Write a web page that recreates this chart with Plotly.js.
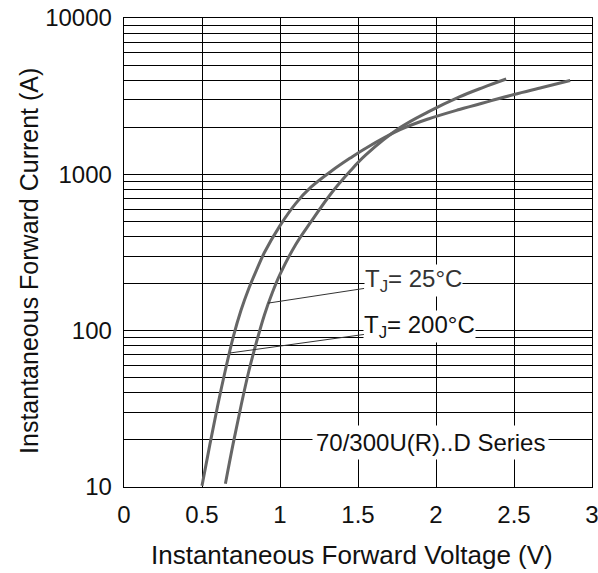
<!DOCTYPE html>
<html>
<head>
<meta charset="utf-8">
<script src="https://cdn.plot.ly/plotly-3.0.1.min.js"></script>
<style>html,body{margin:0;padding:0;background:#fff;}#chart{width:598px;height:573px;}</style>
</head>
<body>
<div id="chart"></div>
<script>
// Tj = 200°C curve (V, A)
var t200V = [0.50, 0.55, 0.60, 0.65, 0.70, 0.75, 0.80, 0.85, 0.90, 1.00, 1.10, 1.20, 1.33, 1.45, 1.55, 1.77, 1.95, 2.15, 2.35, 2.50, 2.68, 2.86];
var t200I = [10.2, 18.6, 33, 56, 91, 135, 186, 245, 316, 470, 650, 830, 1050, 1270, 1470, 1930, 2260, 2600, 2950, 3240, 3590, 3980];
// Tj = 25°C curve (V, A)
var t25V = [0.65, 0.70, 0.75, 0.80, 0.85, 0.90, 0.95, 1.00, 1.10, 1.20, 1.33, 1.45, 1.55, 1.77, 1.95, 2.15, 2.30, 2.45];
var t25I = [10.5, 19, 33, 55, 85, 126, 174, 229, 355, 500, 760, 1050, 1330, 1990, 2510, 3130, 3590, 4070];

var xTicks = [0, 0.5, 1, 1.5, 2, 2.5, 3];
var xTickText = ["0", "0.5", "1", "1.5", "2", "2.5", "3"];
var yDecades = [10, 100, 1000, 10000];
var yDecadeText = ["10", "100", "1000", "10000"];

var yTickVals = [], yTickText = [];
for (var d = 0; d < yDecades.length; d++) {
  var base = yDecades[d];
  if (d === yDecades.length - 1) { yTickVals.push(base); yTickText.push(yDecadeText[d]); break; }
  for (var m = 1; m <= 9; m++) {
    yTickVals.push(base * m);
    yTickText.push(m === 1 ? yDecadeText[d] : "");
  }
}

var FONT = "Liberation Sans, Arial, sans-serif";
var TXT = "#111";
var curveLine = {color: "#666666", width: 3, shape: "spline", smoothing: 1};

var traces = [
  {x: t200V, y: t200I, mode: "lines", line: curveLine, hoverinfo: "skip"},
  {x: t25V, y: t25I, mode: "lines", line: curveLine, hoverinfo: "skip"}
];

var L = Math.log10;
var layout = {
  width: 598, height: 573,
  margin: {l: 124, r: 6, t: 18, b: 86},
  paper_bgcolor: "#fff", plot_bgcolor: "#fff",
  showlegend: false,
  font: {family: FONT, size: 24, color: TXT},
  xaxis: {
    range: [0, 3], tickvals: xTicks, ticktext: xTickText,
    showgrid: true, gridcolor: "#000", gridwidth: 1,
    showline: true, linecolor: "#000", linewidth: 1.3, mirror: true,
    ticks: "", zeroline: false, ticklabelstandoff: 6, ticklabeloverflow: "allow",
    tickfont: {family: FONT, size: 24, color: TXT}
  },
  yaxis: {
    type: "log", range: [1, 4], tickvals: yTickVals, ticktext: yTickText,
    showgrid: true, gridcolor: "#000", gridwidth: 1,
    showline: true, linecolor: "#000", linewidth: 1.3, mirror: true,
    ticks: "", zeroline: false, ticklabelstandoff: 6,
    tickfont: {family: FONT, size: 24, color: TXT}
  },
  annotations: [
    {xref: "paper", yref: "paper", x: 0.487, y: -0.145, xanchor: "center", yanchor: "middle",
     text: "Instantaneous Forward Voltage (V)", showarrow: false, font: {family: FONT, size: 26, color: TXT}},
    {xref: "paper", yref: "paper", x: -0.203, y: 0.482, xanchor: "center", yanchor: "middle",
     text: "Instantaneous Forward Current (A)", textangle: -90, showarrow: false,
     font: {family: FONT, size: 25, color: TXT}},
    {x: 0.923, y: L(150), ax: 1.853, ay: L(208), axref: "x", ayref: "y", xref: "x", yref: "y",
     text: "T<sub>J</sub>= 25°C", showarrow: true, arrowhead: 0, arrowwidth: 1, arrowcolor: "#333",
     bgcolor: "#fff", borderpad: 0, font: {family: FONT, size: 24, color: "#333"}},
    {x: 0.68, y: L(72), ax: 1.897, ay: L(106), axref: "x", ayref: "y", xref: "x", yref: "y",
     text: "T<sub>J</sub>= 200°C", showarrow: true, arrowhead: 0, arrowwidth: 1, arrowcolor: "#333",
     bgcolor: "#fff", borderpad: 0, font: {family: FONT, size: 24, color: TXT}},
    {x: 1.962, y: L(19.4), xref: "x", yref: "y", text: "70/300U(R)..D Series", showarrow: false,
     bgcolor: "#fff", borderpad: 3, font: {family: FONT, size: 24, color: TXT}}
  ]
};

Plotly.newPlot("chart", traces, layout, {staticPlot: true, displayModeBar: false});
</script>
</body>
</html>
